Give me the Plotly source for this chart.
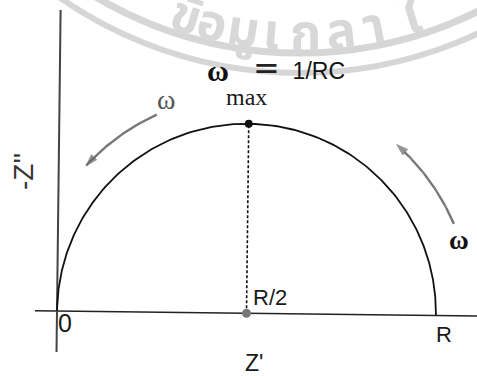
import numpy as np
import plotly.graph_objects as go

# Equivalent parallel RC circuit: Nyquist semicircle
R = 1.0                                  # resistance (axis unit)
w_rc = np.logspace(-3, 3, 600)           # normalised angular frequency  omega*R*C
z_real = R / (1 + w_rc ** 2)             # Z'
z_imag = R * w_rc / (1 + w_rc ** 2)      # -Z''

peak_x, peak_y = R / 2, R / 2            # omega_max = 1/RC
mid_x, mid_y = R / 2, 0.0                # R/2 on the real axis

tick_labels = {"origin": "0", "half": "R/2", "full": "R"}

# watermark glyphs (pixel x of each glyph along the seal arc)
seal_glyphs = ["ข้", "อ", "มู", "เ", "ก", "ล", "า", "ใ"]
seal_glyph_x = [186, 212, 243, 271, 305, 341, 374, 412]

W, H = 477, 376
SCALE = 379.0          # pixels per unit of R
OX, OY = 57.0, 311.0   # pixel position of the origin
TILT = 0.012           # slight clockwise rotation of the drawing


def tilt(x, y):
    x = np.asarray(x, dtype=float)
    y = np.asarray(y, dtype=float)
    c, s = np.cos(TILT), np.sin(TILT)
    return x * c + y * s, -x * s + y * c


def px(x):
    return (x - OX) / SCALE


def py(y):
    return (OY - y) / SCALE


fig = go.Figure()

# ---- watermark bands ----
seal_cx, seal_cy = px(300), py(-347)
for rad, lw in [(400, 7), (420, 6)]:
    r = rad / SCALE
    fig.add_shape(type="circle", xref="x", yref="y",
                  x0=seal_cx - r, x1=seal_cx + r, y0=seal_cy - r, y1=seal_cy + r,
                  line=dict(color="#d6d6d6", width=lw), layer="below")

# ---- axes ----
ax_x, ax_y = tilt([px(35), px(480)], [0, 0])
fig.add_trace(go.Scatter(x=ax_x, y=ax_y, mode="lines",
                         line=dict(color="#222", width=1.6), hoverinfo="skip"))
ay_x, ay_y = tilt([0, 0], [py(352), py(10)])
fig.add_trace(go.Scatter(x=ay_x, y=ay_y, mode="lines",
                         line=dict(color="#444", width=2), hoverinfo="skip"))

# ---- semicircle ----
cx, cy = tilt(z_real, z_imag)
fig.add_trace(go.Scatter(x=cx, y=cy, mode="lines",
                         line=dict(color="#111", width=1.8), hoverinfo="skip"))

# ---- dashed drop line from the peak ----
dx_, dy_ = tilt([mid_x, peak_x], [mid_y, peak_y])
fig.add_trace(go.Scatter(x=dx_, y=dy_, mode="lines",
                         line=dict(color="#111", width=1.6, dash="3px,2px"),
                         hoverinfo="skip"))

# ---- points ----
pkx, pky = tilt([peak_x], [peak_y])
fig.add_trace(go.Scatter(x=pkx, y=pky, mode="markers",
                         marker=dict(color="#111", size=8), hoverinfo="skip"))
mdx, mdy = tilt([mid_x], [mid_y])
fig.add_trace(go.Scatter(x=mdx, y=mdy, mode="markers",
                         marker=dict(color="#777", size=9), hoverinfo="skip"))

# ---- frequency direction arrows (arcs concentric with the semicircle) ----
for r_arc, a0, a1 in [(0.575, 115, 138), (0.596, 24, 49)]:
    th = np.radians(np.linspace(a0, a1, 40))
    axx = R / 2 + r_arc * R * np.cos(th)
    ayy = r_arc * R * np.sin(th)
    tx, ty = tilt(axx, ayy)
    sizes = [0] * (len(th) - 1) + [12]
    fig.add_trace(go.Scatter(
        x=tx, y=ty, mode="lines+markers",
        line=dict(color="#777", width=2.4),
        marker=dict(symbol="arrow", angleref="previous", size=sizes, color="#666"),
        hoverinfo="skip"))

SANS = "Liberation Sans, Arial, sans-serif"
SERIF = "Liberation Serif, Times New Roman, serif"


def ann(text, x, y, size, family=SANS, color="#1a1a1a", ref="data", **kw):
    if ref == "paper":
        fig.add_annotation(text=text, x=x / W, y=1 - y / H, xref="paper", yref="paper",
                           showarrow=False, font=dict(size=size, family=family, color=color),
                           xanchor="center", yanchor="middle", **kw)
    else:
        fig.add_annotation(text=text, x=x, y=y, xref="x", yref="y",
                           showarrow=False, font=dict(size=size, family=family, color=color),
                           xanchor="center", yanchor="middle", **kw)


# watermark glyphs following the seal arc (drawn first, underneath the labels)
for g, gx in zip(seal_glyphs, seal_glyph_x):
    d = gx - 300
    gy = -347 + np.sqrt(382 ** 2 - d ** 2)
    ang = -np.degrees(np.arcsin(d / 382))
    ann("<b>" + g + "</b>", gx, gy, 50, family="Noto Sans Thai, Noto Sans, sans-serif",
        ref="paper", color="#d8d8d8", textangle=ang)

# tick-like labels tied to the marks
ox, oy = tilt([0.0], [0.0])
ann(tick_labels["origin"], ox[0], oy[0], 25, xshift=8, yshift=-12)
ann(tick_labels["half"], mdx[0], mdy[0], 22, xshift=24, yshift=16)
rx, ry = tilt([R], [0.0])
ann(tick_labels["full"], rx[0], ry[0], 22, xshift=8, yshift=-19)
ann("max", pkx[0], pky[0], 24, family=SERIF, xshift=-2, yshift=27)

# axis titles
ann("Z'", 254, 363, 23, ref="paper")
ann("-Z''", 24, 172, 28, ref="paper", textangle=-90, color="#333")

# peak frequency  (omega_max = 1/RC)
ann("<b>ω</b>", 218, 70, 30, family=SERIF, ref="paper", color="#111")
ann("<span style='font-family:DejaVu Sans;font-size:32px;color:#222'>=</span>\u00a0 1/RC",
    299, 68, 23, ref="paper", color="#111")

# arrow labels
ann("ω", 166, 99, 28, family=SERIF, ref="paper", color="#555")
ann("<b>ω</b>", 459, 240, 27, family=SERIF, ref="paper", color="#111")

fig.update_layout(
    width=W, height=H,
    margin=dict(l=0, r=0, t=0, b=0),
    paper_bgcolor="white", plot_bgcolor="white",
    showlegend=False,
    xaxis=dict(range=[px(0), px(W)], visible=False, fixedrange=True),
    yaxis=dict(range=[py(H), py(0)], visible=False, fixedrange=True),
)

fig.write_html("out.html")
